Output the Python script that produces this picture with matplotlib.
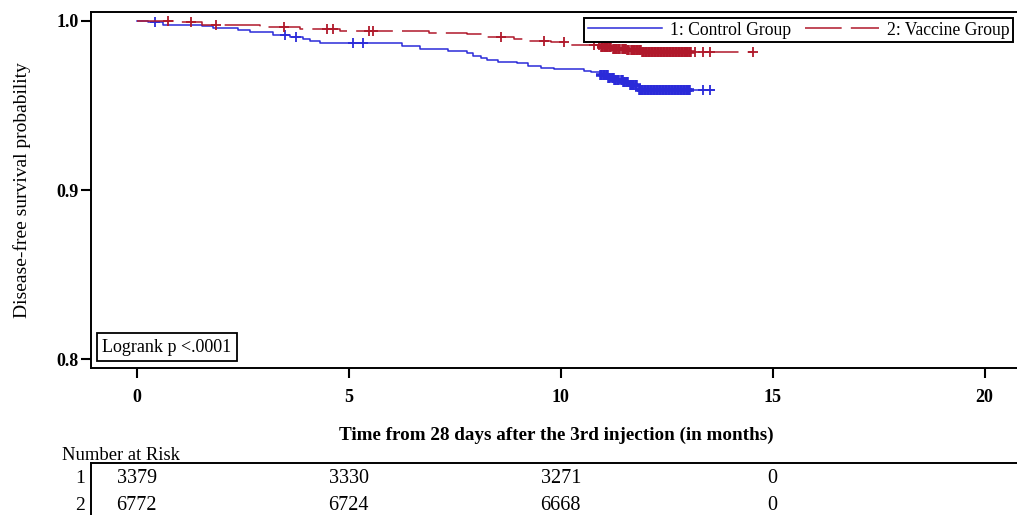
import numpy as np
import matplotlib.pyplot as plt
from matplotlib.transforms import blended_transform_factory

plt.rcParams['font.family'] = ['Liberation Serif', 'DejaVu Serif']

# Kaplan-Meier steps (time in months, survival)
ctrl_times = [0, 0.26, 0.61, 1.54, 1.80, 2.39, 2.67, 3.22, 3.62, 3.92, 4.09, 4.33,
              5.11, 6.26, 6.69, 7.33, 7.80, 7.94, 8.11, 8.27, 8.51, 8.98, 9.22,
              9.53, 9.83, 10.54, 10.71, 10.95, 11.10, 11.28, 11.47, 11.65, 11.84, 13.62]
ctrl_surv = [1.0, 0.9992, 0.9978, 0.9969, 0.9957, 0.9947, 0.9933, 0.9919, 0.9905,
             0.9893, 0.9882, 0.9872, 0.9868, 0.9850, 0.9834, 0.9822, 0.9811, 0.9795,
             0.9779, 0.9767, 0.9759, 0.9750, 0.9736, 0.9724, 0.9716, 0.9706, 0.9696,
             0.9680, 0.9665, 0.9651, 0.9636, 0.9620, 0.9592, 0.9592]
ctrl_censor = [0.43, 3.50, 3.76, 5.11, 5.34,
               10.95, 11.02, 11.08, 11.15, 11.23, 11.29, 11.36, 11.44, 11.50, 11.57,
               11.65, 11.71, 11.78, 11.86, 11.92, 11.99, 12.07, 12.13, 12.20, 12.28,
               12.34, 12.41, 12.49, 12.55, 12.62, 12.70, 12.76, 12.83, 12.91, 12.97,
               13.03, 13.36, 13.53]

vacc_times = [0, 1.00, 1.55, 2.90, 3.85, 4.80, 6.90, 7.80, 8.17, 8.89, 9.22, 9.76,
              10.24, 10.95, 11.25, 11.55, 11.90, 14.55]
vacc_surv = [1.0, 0.9992, 0.9978, 0.9966, 0.9953, 0.9943, 0.9929, 0.9921, 0.9905,
             0.9893, 0.9880, 0.9874, 0.9858, 0.9844, 0.9835, 0.9826, 0.9818, 0.9818]
vacc_censor = [0.74, 1.27, 1.87, 3.48, 4.49, 4.63, 5.47, 5.58, 8.58, 9.60, 10.07,
               10.78, 10.90,
               10.97, 11.04, 11.10, 11.17, 11.25, 11.31, 11.38, 11.46, 11.52, 11.59,
               11.67, 11.73, 11.80, 11.88, 11.94, 12.01, 12.09, 12.15, 12.22, 12.30,
               12.36, 12.43, 12.51, 12.57, 12.64, 12.72, 12.78, 12.85, 12.93, 12.99,
               13.05, 13.16, 13.36, 13.53, 14.54]

group_labels = ['1: Control Group', '2: Vaccine Group']
risk_times = [0, 5, 10, 15]
risk_ctrl = [3379, 3330, 3271, 0]
risk_vacc = [6772, 6724, 6668, 0]

x_ticks = [0, 5, 10, 15, 20]
y_ticks = [0.8, 0.9, 1.0]

blue = '#2B2BD9'
red = '#B0192B'

fig = plt.figure(figsize=(10.17, 5.15), dpi=100)
ax = fig.add_axes([91 / 1017, 147 / 515, 0.915, 356 / 515])


def censor_y(times, surv, cens):
    idx = np.searchsorted(times, cens, side='right') - 1
    return np.array(surv)[idx]


def draw_censors(times, surv, cens, color):
    cens = np.array(cens)
    ys = censor_y(times, surv, cens)
    dense = (cens > 10.92) & (cens < 13.1)
    ax.plot(cens[~dense], ys[~dense], ls='none', marker='+', ms=7, mew=1.3, color=color)
    ax.plot(cens[dense], ys[dense], ls='none', marker='+', ms=7.5, mew=2.6, color=color)


ax.step(ctrl_times, ctrl_surv, where='post', color=blue, lw=1.1, label=group_labels[0])
draw_censors(ctrl_times, ctrl_surv, ctrl_censor, blue)
ax.step(vacc_times, vacc_surv, where='post', color=red, lw=1.1, dashes=(24, 6),
        label=group_labels[1])
draw_censors(vacc_times, vacc_surv, vacc_censor, red)

ax.set_xlim(-1.08, 20.87)
ax.set_ylim(0.7947, 1.0053)
ax.set_xticks(x_ticks)
ax.set_yticks(y_ticks)
ax.set_yticklabels(['%.1f' % v for v in y_ticks])
ax.tick_params(axis='both', width=1.5, length=7, labelsize=13)
ax.tick_params(axis='x', pad=8)
ax.tick_params(axis='y', pad=2)
for lab in ax.get_xticklabels() + ax.get_yticklabels():
    lab.set_fontweight('bold')
for sp in ax.spines.values():
    sp.set_linewidth(1.4)
ax.spines['right'].set_visible(False)

ax.set_xlabel('Time from 28 days after the 3rd injection (in months)',
              fontsize=13.8, fontweight='bold', labelpad=15)
ax.set_ylabel('Disease-free survival probability', fontsize=14, labelpad=18.5)

leg = ax.legend(loc='upper right', ncol=2, bbox_to_anchor=(1013 / 1017, 497 / 515),
                bbox_transform=fig.transFigure, borderaxespad=0, fancybox=False,
                framealpha=1, edgecolor='black', fontsize=12.7, handlelength=4.2,
                handletextpad=0.45, columnspacing=0.8, borderpad=0.2)
leg.get_frame().set_linewidth(1.4)

ax.text(0.012, 0.035, 'Logrank p <.0001', transform=ax.transAxes, fontsize=13,
        va='bottom', ha='left',
        bbox=dict(boxstyle='square,pad=0.3', fc='white', ec='black', lw=1.3))

# number at risk table
tbl = fig.add_axes([91 / 1017, -0.2, 0.915, 0.2 + 52 / 515])
tbl.set_xlim(ax.get_xlim())
tbl.set_ylim(5.15, -0.57)
tbl.set_xticks([])
tbl.set_yticks([])
tbl.spines['right'].set_visible(False)
tbl.spines['bottom'].set_visible(False)
for sp in tbl.spines.values():
    sp.set_linewidth(1.4)
row_tf = blended_transform_factory(fig.transFigure, tbl.transData)
for row, counts in enumerate([risk_ctrl, risk_vacc]):
    for t, n in zip(risk_times, counts):
        tbl.text(t, row, str(n), ha='center', va='center', fontsize=14.5)
    tbl.text(85 / 1017, row, str(row + 1), ha='right', va='center', fontsize=14,
             transform=row_tf)
fig.text(62 / 1017, 60 / 515, 'Number at Risk', fontsize=13.4, ha='left', va='center')

fig.savefig('out.png', dpi=100)
